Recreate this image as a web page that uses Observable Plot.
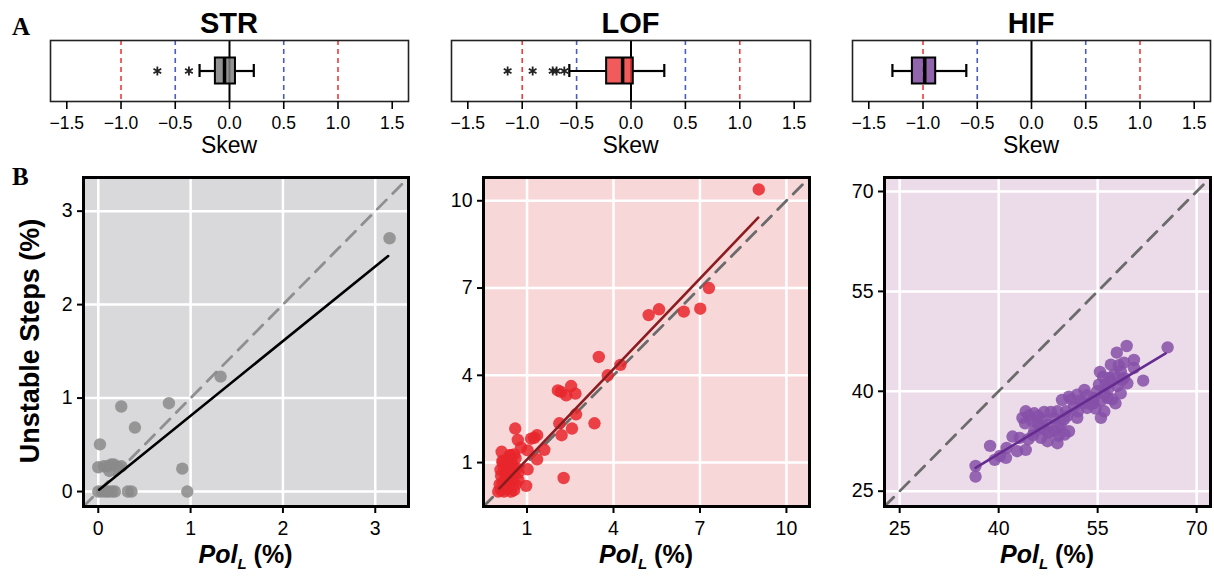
<!DOCTYPE html>
<html><head><meta charset="utf-8">
<script src="https://cdn.jsdelivr.net/npm/d3@7"></script>
<script src="https://cdn.jsdelivr.net/npm/@observablehq/plot@0.6"></script>
<style>
body{margin:0;background:#fff;}
#wrap{position:relative;width:1214px;height:576px;overflow:hidden;font-family:"Liberation Sans",Arial,sans-serif;color:#000;}
.abs{position:absolute;line-height:1;white-space:nowrap;}
</style></head><body><div id="wrap"></div>
<script>
// ---------- data ----------
const groups = ["STR", "LOF", "HIF"];
const skewTicks = [-1.5, -1, -0.5, 0, 0.5, 1, 1.5];
const severeSkew = [-1, 1];
const moderateSkew = [-0.5, 0.5];
const skewLo = [-0.276, -0.567, -1.282];
const skewQ1 = [-0.13, -0.224, -1.098];
const skewMedian = [-0.046, -0.077, -0.984];
const skewQ3 = [0.055, 0.021, -0.883];
const skewHi = [0.224, 0.306, -0.601];
const outlierGroup = ["STR", "STR", "LOF", "LOF", "LOF", "LOF", "LOF"];
const outlierSkew = [-0.665, -0.374, -1.134, -0.904, -0.72, -0.684, -0.613];

const strTicks = [0, 1, 2, 3];
const lofTicks = [1, 4, 7, 10];
const hifTicks = [25, 40, 55, 70];

const strPol = [3.155, 1.325, 0.249, 0.765, 0.397, 0.018, 0.91, 0.964, 0.0, 0.06, 0.1, 0.14, 0.17, 0.21, 0.25, 0.12, 0.0, 0.04, 0.08, 0.11, 0.15, 0.18, 0.32, 0.36];
const strUnstable = [2.71, 1.23, 0.91, 0.945, 0.685, 0.505, 0.245, 0.0, 0.26, 0.27, 0.27, 0.29, 0.29, 0.26, 0.27, 0.22, 0.0, 0.0, 0.0, 0.0, 0.0, 0.0, 0.0, 0.0];
const strFitPol = [0.01, 3.14];
const strFitUnstable = [0.02, 2.52];

const lofPol = [9.04, 7.31, 7.01, 6.44, 5.58, 5.22, 3.49, 4.24, 3.80, 2.07, 2.18, 2.53, 2.36, 2.68, 2.70, 2.12, 3.34, 2.56, 2.20, 2.27, 0.59, 0.68, 1.14, 1.35, 1.25, 0.79, 1.02, 1.60, 1.35, 0.12, 0.44, 0.55, 0.15, 1.02, 0.97,
  0.0, 0.1, 0.2, 0.3, 0.45, 0.55, 0.05, 0.15, 0.3, 0.45, 0.6, 0.7, 0.1, 0.25, 0.4, 0.55, 0.2, 0.35, 0.5, 0.65, 0.15, 0.3, 0.45, 0.6, 0.25, 0.5, 0.7, 0.35, 0.08, 0.4];
const lofUnstable = [10.39, 7.0, 6.29, 6.19, 6.27, 6.07, 4.63, 4.36, 4.0, 3.48, 3.43, 3.63, 3.31, 3.37, 2.66, 2.35, 2.35, 2.17, 1.94, 0.47, 2.17, 1.78, 1.82, 1.94, 1.85, 1.52, 1.42, 1.44, 1.11, 1.37, 1.25, 1.28, 1.06, 0.77, 0.20,
  0.0, 0.05, 0.0, 0.1, 0.0, 0.05, 0.25, 0.3, 0.35, 0.3, 0.25, 0.4, 0.55, 0.6, 0.65, 0.6, 0.8, 0.85, 0.9, 0.8, 1.0, 1.1, 1.05, 1.15, 0.45, 0.45, 0.65, 0.2, 0.75, 1.25];
const lofFitPol = [0.04, 9.02];
const lofFitUnstable = [0.11, 9.42];

const hifPol = [36.5, 36.5, 38.7, 39.4, 40.2, 41.1, 41.2, 42.1, 42.8, 43.2, 44.1, 44.5, 43.6, 44.1, 44.0, 44.6, 45.4, 45.0, 45.4, 45.9, 46.4, 46.4, 46.9, 46.6, 47.4, 47.4, 47.9, 47.6, 48.4, 48.4, 48.9, 48.9, 49.4, 49.1, 49.6, 49.9, 50.2, 50.65, 50.65, 50.4, 51.4, 51.9, 51.9, 52.4, 52.9, 53.4, 53.4, 53.9, 54.4, 54.4, 54.9, 54.7, 55.35, 55.2, 55.5, 55.5, 56.0, 56.0, 56.2, 56.5, 56.6, 57.0, 57.0, 57.2, 57.5, 57.7, 57.9, 58.0, 58.5, 58.5, 58.7, 59.0, 59.0, 59.4, 59.5, 60.5, 60.5, 61.9, 65.6, 53.0, 52.0, 47.0, 46.0, 49.0, 50.0, 45.2, 51.0, 55.8, 58.2, 56.8];
const hifUnstable = [27.2, 28.8, 31.8, 29.7, 30.3, 30.0, 31.5, 33.2, 31.0, 33.0, 31.2, 32.8, 36.0, 37.0, 35.2, 36.4, 36.7, 35.6, 34.0, 35.2, 33.0, 34.5, 36.9, 35.8, 32.5, 35.0, 36.9, 33.8, 34.0, 36.0, 37.0, 32.2, 35.0, 33.3, 38.7, 35.8, 37.0, 34.0, 39.2, 36.3, 37.7, 39.5, 36.0, 38.6, 38.2, 37.5, 39.4, 38.1, 38.2, 39.0, 40.0, 37.4, 42.9, 41.0, 36.0, 38.6, 37.0, 39.6, 41.0, 39.0, 40.4, 41.5, 44.0, 38.8, 42.5, 38.2, 45.8, 40.8, 39.7, 43.0, 41.7, 42.0, 44.3, 46.8, 41.2, 43.5, 44.7, 41.6, 46.6, 40.2, 37.0, 34.2, 36.3, 34.6, 33.5, 33.4, 38.8, 42.2, 43.9, 42.0];
const hifFitPol = [36.5, 65.3];
const hifFitUnstable = [28.5, 45.7];

// ---------- styling / layout ----------
const FONT = '"Liberation Sans", Arial, sans-serif';
const boxColors = ["#7f7f7f", "#ee3e3e", "#7d4a9d"];
const wrap = document.getElementById("wrap");
function put(node, left, top) {
  node.style.position = "absolute";
  node.style.left = left + "px";
  node.style.top = top + "px";
  wrap.appendChild(node);
}
function label(html, css) {
  const d = document.createElement("div");
  d.className = "abs";
  d.innerHTML = html;
  Object.assign(d.style, css);
  wrap.appendChild(d);
}

// ---------- panel A: skew box plots ----------
const topLayout = [{left: 0, ml: 50, mr: 2}, {left: 400, ml: 51, mr: 0}, {left: 804, ml: 48, mr: 4}];
groups.forEach((g, i) => {
  const L = topLayout[i];
  const idx = [i];
  const outs = outlierSkew.filter((_, k) => outlierGroup[k] === g);
  const chart = Plot.plot({
    width: 410, height: 160,
    marginLeft: L.ml, marginRight: L.mr, marginTop: 40, marginBottom: 59,
    x: {domain: [-1.65, 1.65]},
    style: {fontSize: "17.5px", fontFamily: FONT, color: "#000", overflow: "visible", background: "transparent"},
    marks: [
      Plot.ruleX(severeSkew, {stroke: "#ef3b3b", strokeWidth: 1.6, strokeDasharray: "5,4"}),
      Plot.ruleX(moderateSkew, {stroke: "#4a5bc4", strokeWidth: 1.6, strokeDasharray: "5,4"}),
      Plot.ruleX([0], {stroke: "#000", strokeWidth: 2}),
      Plot.ruleY(idx, {y: null, x1: (k) => skewLo[k], x2: (k) => skewQ1[k], stroke: "#000", strokeWidth: 2.2}),
      Plot.ruleY(idx, {y: null, x1: (k) => skewQ3[k], x2: (k) => skewHi[k], stroke: "#000", strokeWidth: 2.2}),
      Plot.tickX(idx, {x: (k) => skewLo[k], insetTop: 24, insetBottom: 24, stroke: "#000", strokeWidth: 2.2}),
      Plot.tickX(idx, {x: (k) => skewHi[k], insetTop: 24, insetBottom: 24, stroke: "#000", strokeWidth: 2.2}),
      Plot.barX(idx, {x1: (k) => skewQ1[k], x2: (k) => skewQ3[k], insetTop: 17.5, insetBottom: 17.5, fill: boxColors[i], fillOpacity: 0.85, stroke: "#000", strokeWidth: 2}),
      Plot.tickX(idx, {x: (k) => skewMedian[k], insetTop: 17.5, insetBottom: 17.5, stroke: "#000", strokeWidth: 3.5}),
      Plot.dot(outs, {x: (d) => d, symbol: "asterisk", r: 4.2, stroke: "#222", strokeWidth: 1.8}),
      Plot.frame({stroke: "#222", strokeWidth: 1.6}),
      Plot.axisX({ticks: skewTicks, tickFormat: d3.format(".1f"), tickSize: 8, tickPadding: 7, strokeWidth: 1.6, label: null})
    ]
  });
  put(chart, L.left, 0);
  const cx = L.left + L.ml + (410 - L.ml - L.mr) / 2;
  label(g, {left: cx + "px", top: "9px", transform: "translateX(-50%)", fontSize: "29px", fontWeight: "bold"});
  label("Skew", {left: cx + "px", top: "134px", transform: "translateX(-50%)", fontSize: "23px"});
});

// ---------- panel B: scatter plots ----------
const botLayout = [
  {left: 0, ml: 83, mr: 2, domain: [-0.16, 3.36], ticks: strTicks, xs: strPol, ys: strUnstable, fx: strFitPol, fy: strFitUnstable,
   bg: "#d9d9db", pt: "#8a8a8a", fit: "#000000", ident: "#8f8f8f"},
  {left: 400, ml: 83, mr: 1, domain: [-0.51, 10.8], ticks: lofTicks, xs: lofPol, ys: lofUnstable, fx: lofFitPol, fy: lofFitUnstable,
   bg: "#f8d7d9", pt: "#e8262b", fit: "#8b1c1f", ident: "#6b6b6b"},
  {left: 804, ml: 80, mr: 4, domain: [22.7, 72.1], ticks: hifTicks, xs: hifPol, ys: hifUnstable, fx: hifFitPol, fy: hifFitUnstable,
   bg: "#ecdbe9", pt: "#8650a8", fit: "#652c8f", ident: "#6b6b6b"}
];
botLayout.forEach((P) => {
  const pts = P.xs.map((_, k) => k);
  const chart = Plot.plot({
    width: 410, height: 411,
    marginLeft: P.ml, marginRight: P.mr, marginTop: 12, marginBottom: 70,
    x: {domain: P.domain}, y: {domain: P.domain},
    style: {fontSize: "19.5px", fontFamily: FONT, color: "#000", overflow: "visible", background: "transparent"},
    marks: [
      Plot.frame({fill: P.bg}),
      Plot.ruleX(P.ticks, {stroke: "#fff", strokeWidth: 2.5}),
      Plot.ruleY(P.ticks, {stroke: "#fff", strokeWidth: 2.5}),
      Plot.line(P.domain, {x: (d) => d, y: (d) => d, stroke: P.ident, strokeWidth: 2.8, strokeDasharray: "13,9"}),
      Plot.dot(pts, {x: (k) => P.xs[k], y: (k) => P.ys[k], r: 6.2, fill: P.pt, fillOpacity: 0.85}),
      Plot.line([0, 1], {x: (k) => P.fx[k], y: (k) => P.fy[k], stroke: P.fit, strokeWidth: 2.6}),
      Plot.frame({stroke: "#000", strokeWidth: 3}),
      Plot.axisX({ticks: P.ticks, tickFormat: d3.format("d"), tickSize: 7, tickPadding: 8, strokeWidth: 2, label: null}),
      Plot.axisY({ticks: P.ticks, tickFormat: d3.format("d"), tickSize: 6, tickPadding: 5, strokeWidth: 2, label: null})
    ]
  });
  put(chart, P.left, 165);
  const cx = P.left + P.ml + (410 - P.ml - P.mr) / 2;
  label('<i>Pol</i><span style="font-size:15px;font-style:italic;position:relative;top:6px">L</span> (%)',
    {left: cx + "px", top: "542px", transform: "translateX(-50%)", fontSize: "25px", fontWeight: "bold"});
});

// ---------- shared labels ----------
label("Unstable Steps (%)", {left: "30px", top: "341px", transform: "translate(-50%,-50%) rotate(-90deg)", fontSize: "27px", fontWeight: "bold"});
label("A", {left: "12px", top: "14px", fontSize: "25px", fontWeight: "bold", fontFamily: '"Liberation Serif", "Times New Roman", serif'});
label("B", {left: "12px", top: "164px", fontSize: "25px", fontWeight: "bold", fontFamily: '"Liberation Serif", "Times New Roman", serif'});
</script></body></html>
